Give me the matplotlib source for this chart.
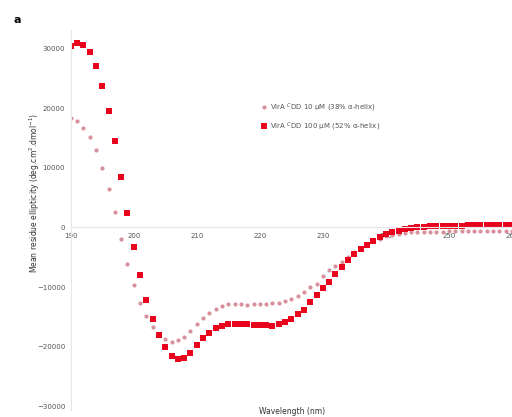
import numpy as np
import matplotlib
matplotlib.use('Agg')
import matplotlib.pyplot as plt

# CD spectra of VirA CDD at two concentrations
wavelength = np.arange(190, 261)

low_conc = [18400, 17850, 16770, 15260, 13000, 10050, 6520, 2600, -1880, -6130,
            -9580, -12720, -14900, -16720, -17900, -18790, -19240, -18900, -18400, -17400,
            -16220, -15260, -14370, -13650, -13140, -12860, -12860, -12860, -13030, -12810,
            -12860, -12910, -12690, -12690, -12350, -12070, -11460, -10790, -10000, -9550,
            -8150, -7190, -6420, -5750, -4960, -4200, -3530, -2940, -2350, -1850,
            -1510, -1260, -1060, -920, -840, -760, -720, -700, -690, -680,
            -670, -660, -650, -640, -640, -630, -620, -620, -610, -600,
            -600]

high_conc = [30500, 31060, 30670, 29550, 27140, 23730, 19660, 14620, 8440, 2490,
             -3230, -8030, -12130, -15430, -18020, -20030, -21600, -22100, -21930, -21040,
             -19750, -18600, -17730, -16890, -16470, -16270, -16220, -16220, -16270, -16340,
             -16390, -16440, -16550, -16270, -15830, -15330, -14490, -13810, -12520, -11390,
             -10220, -9080, -7870, -6690, -5460, -4500, -3660, -2940, -2220, -1600,
             -1140, -810, -540, -300, -130, 30, 120, 170, 220, 250,
             290, 310, 330, 340, 350, 360, 350, 340, 350, 360,
             360]

labels = [r'VirA $^{C}$DD 10 μM (38% α-helix)',
          r'VirA $^{C}$DD 100 μM (52% α-helix)']

W, H = 512, 417
fig = plt.figure(figsize=(W / 100, H / 100), dpi=100)
ax = fig.add_axes([70.7 / W, 1 - 410 / H, 1 - 70.7 / W, 380 / H])

ax.plot(wavelength, low_conc, linestyle='none', marker='o', markersize=3.0,
        color='#d8909c', markeredgewidth=0, label=labels[0])
ax.plot(wavelength, high_conc, linestyle='none', marker='s', markersize=4.0,
        color='#e8041c', markeredgewidth=0, label=labels[1])

ax.set_xlim(190, 259.7)
ax.set_ylim(-30670, 33190)
ax.set_xticks(range(190, 261, 10))
ax.set_yticks(range(-30000, 30001, 10000))

ax.spines['bottom'].set_position(('data', 0))
for s in ['top', 'right']:
    ax.spines[s].set_visible(False)
for s in ['bottom', 'left']:
    ax.spines[s].set_color('#e6e6e6')
    ax.spines[s].set_linewidth(0.8)
ax.tick_params(length=0, labelsize=5, labelcolor='#555555')
ax.tick_params(axis='x', pad=4)
ax.tick_params(axis='y', pad=4)

fig.text(35 / W, 1 - 193 / H, 'Mean residue ellipticity (deg.cm$^2$.dmol$^{-1}$)',
         rotation=90, ha='center', va='center', fontsize=5.5, color='#333333')
fig.text(292 / W, 1 - 411 / H, 'Wavelength (nm)', ha='center', va='center',
         fontsize=5.5, color='#333333')
fig.text(14 / W, 1 - 20 / H, 'a', fontsize=8, fontweight='bold', va='center')

ax.legend(loc='upper left', bbox_to_anchor=(255 / W, 1 - 95 / H),
          bbox_transform=fig.transFigure, frameon=False, fontsize=5,
          handlelength=0.8, handletextpad=0.4, labelspacing=1.0,
          labelcolor='#555555')

fig.savefig('out.png', dpi=100)
